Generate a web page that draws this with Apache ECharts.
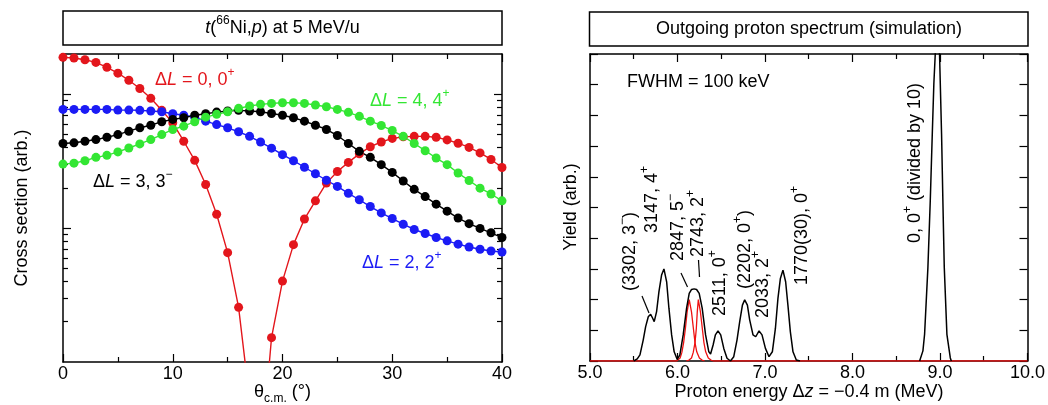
<!DOCTYPE html>
<html><head><meta charset="utf-8">
<script src="https://cdn.jsdelivr.net/npm/echarts@6/dist/echarts.min.js"></script>
<style>html,body{margin:0;padding:0;background:#fff}#c{width:1048px;height:405px}</style>
</head><body><div id="c"></div><script>
const FONT = 'Liberation Sans, Arial, Helvetica, sans-serif';

// ---------- left panel data (theta c.m. in degrees, cross section arb.) ----------
const angles = [0,1,2,3,4,5,6,7,8,9,10,11,12,13,14,15,16,17,18,19,20,21,22,23,24,25,26,27,28,29,30,31,32,33,34,35,36,37,38,39,40];
const csL0 = [18.88,18.66,18.11,17.30,15.89,14.39,12.74,11.04,9.33,7.59,6.12,4.46,3.21,2.12,1.27,0.656,0.256,0.052,0.017,0.152,0.402,0.753,1.17,1.60,2.17,2.65,3.10,3.59,4.06,4.40,4.68,4.81,4.85,4.85,4.78,4.56,4.31,4.01,3.65,3.26,2.84];
const csL2 = [7.71,7.71,7.71,7.71,7.71,7.62,7.62,7.59,7.50,7.41,7.16,6.98,6.75,6.30,5.94,5.62,5.25,4.85,4.40,3.96,3.54,3.19,2.85,2.55,2.28,2.05,1.82,1.63,1.45,1.30,1.18,1.07,0.977,0.912,0.851,0.804,0.759,0.723,0.695,0.675,0.664];
const csL3 = [4.29,4.34,4.46,4.59,4.78,5.00,5.30,5.62,5.87,6.24,6.49,6.68,6.98,7.16,7.36,7.50,7.59,7.50,7.41,7.19,6.98,6.68,6.30,5.87,5.46,4.92,4.29,3.75,3.38,2.98,2.61,2.25,1.95,1.72,1.51,1.34,1.19,1.08,0.995,0.923,0.851];
const csL4 = [3.01,3.06,3.19,3.38,3.50,3.71,3.97,4.26,4.59,5.00,5.46,5.78,6.24,6.75,7.08,7.41,7.85,8.17,8.41,8.55,8.65,8.65,8.55,8.32,8.07,7.71,7.33,6.84,6.30,5.85,5.36,4.85,4.29,3.79,3.34,2.98,2.58,2.27,1.99,1.80,1.60];
const csMin = 0.1, csMax = 20;
const logMajor = [1, 10];
const logMinor = [0.2,0.3,0.4,0.5,0.6,0.7,0.8,0.9,2,3,4,5,6,7,8,9];

// ---------- right panel data (proton energy MeV, yield arb.) ----------
const totalLow = [[5.50,0],[5.514,0],[5.54,0.07],[5.571,0.2],[5.608,0.68],[5.636,1.12],[5.666,1.44],[5.693,1.52],[5.715,1.40],[5.734,1.28],[5.761,1.61],[5.788,2.26],[5.818,2.80],[5.845,3.00],[5.876,2.58],[5.902,1.72],[5.933,0.85],[5.962,0.30],[5.997,0.05],[6.027,0.20],[6.065,0.85],[6.104,1.72],[6.134,2.20],[6.161,2.33],[6.19,2.35],[6.218,2.33],[6.248,2.20],[6.282,1.72],[6.321,0.85],[6.358,0.30],[6.378,0.23],[6.407,0.52],[6.433,0.85],[6.463,0.98],[6.494,0.85],[6.529,0.41],[6.566,0.09],[6.605,0.0],[6.643,0.14],[6.68,0.68],[6.711,1.28],[6.742,1.82],[6.768,1.99],[6.799,1.82],[6.825,1.34],[6.863,0.85],[6.894,0.79],[6.932,0.98],[6.966,0.85],[7.005,0.41],[7.046,0.14],[7.084,0.30],[7.119,1.06],[7.148,2.04],[7.176,2.69],[7.205,2.96],[7.236,2.58],[7.262,1.82],[7.29,0.95],[7.32,0.30],[7.358,0.03],[7.40,0]];
const totalHigh = [[8.767,0],[8.805,0.33],[8.824,0.87],[8.862,3.05],[8.889,5.23],[8.912,7.4],[8.930,9.04],[8.946,10.0],[8.96,10.6],[8.975,10.6],[8.995,10.0],[9.018,7.4],[9.033,5.23],[9.049,3.05],[9.079,0.87],[9.118,0.1],[9.13,0]];
const comp2847 = [[5.0,0],[5.99,0],[6.0,0.03],[6.03,0.1],[6.05,0.28],[6.07,0.6],[6.09,1.05],[6.11,1.6],[6.134,2.0],[6.16,1.6],[6.18,1.1],[6.20,0.6],[6.22,0.3],[6.25,0.1],[6.28,0.03],[6.31,0]];
const comp2743 = [[6.10,0],[6.132,0.03],[6.16,0.1],[6.18,0.28],[6.20,0.6],[6.215,1.05],[6.226,1.6],[6.238,2.0],[6.262,1.6],[6.282,1.1],[6.302,0.6],[6.322,0.3],[6.352,0.1],[6.382,0.03],[6.41,0],[10.0,0]];

const RED = '#e3161c', GREEN = '#33e633', BLUE = '#1b1bf5', BLK = '#000';

function rich(size, color) {
  const base = {fontFamily: FONT, fontSize: size, color: color, fill: color};
  return {
    i: Object.assign({}, base, {fontStyle: 'italic', lineHeight: size + 8}),
    sup: Object.assign({}, base, {fontSize: Math.round(size * 0.66), lineHeight: Math.round(size * 0.66), verticalAlign: 'top'}),
    sub: Object.assign({}, base, {fontSize: Math.round(size * 0.66), lineHeight: Math.round(size * 0.66), verticalAlign: 'bottom'}),
    n: Object.assign({}, base, {lineHeight: size + 8})
  };
}
function txt(text, x, y, color, opts) {
  opts = opts || {};
  const size = opts.size || 18;
  return {
    type: 'text', x: x, y: y, rotation: opts.rot || 0, z: 50,
    style: {
      text: text, rich: rich(size, color), fill: color,
      fontFamily: FONT, fontSize: size, lineHeight: size + 8,
      align: opts.align || 'left', verticalAlign: 'middle'
    }
  };
}
const R90 = Math.PI / 2;
const peakLabels = [
  ['{n|(3302, 3}{sup|−}{n|)}', 630, 291],
  ['{n|3147, 4}{sup|+}', 652, 233],
  ['{n|2847, 5}{sup|−}', 678, 261],
  ['{n|2743, 2}{sup|+}', 698, 257],
  ['{n|2511, 0}{sup|+}', 720, 316],
  ['{n|(2202, 0}{sup|+}{n|)}', 745, 289],
  ['{n|2033, 2}{sup|+}', 763, 318],
  ['{n|1770(30), 0}{sup|+}', 802, 285],
  ['{n|0, 0}{sup|+}{n| (divided by 10)}', 915, 243]
];
const leaders = [[642,296,649,313],[681,273,687.5,287],[698.5,260,699.5,277]];

const graphics = [
  {type:'rect', shape:{x:63,y:11,width:439,height:34}, style:{fill:'none',stroke:'#000',lineWidth:1.5}},
  {type:'rect', shape:{x:589.5,y:12,width:438.5,height:34}, style:{fill:'none',stroke:'#000',lineWidth:1.5}},
  txt('{i|t}{n|(}{sup|66}{n|Ni,}{i|p}{n|) at 5 MeV/u}', 282.5, 28, BLK, {align:'center'}),
  txt('{n|Outgoing proton spectrum (simulation)}', 809, 29, BLK, {align:'center'}),
  txt('{n|Cross section (arb.)}', 22, 208, BLK, {align:'center', rot:R90}),
  txt('{n|Yield (arb.)}', 571, 207, BLK, {align:'center', rot:R90}),
  txt('{n|θ}{sub|c.m.}{n| (°)}', 282.5, 392, BLK, {align:'center'}),
  txt('{n|Proton energy Δ}{i|z}{n| = −0.4 m (MeV)}', 809, 392, BLK, {align:'center'}),
  txt('{n|Δ}{i|L}{n| = 0, 0}{sup|+}', 155, 80, RED),
  txt('{n|Δ}{i|L}{n| = 4, 4}{sup|+}', 370, 101, GREEN),
  txt('{n|Δ}{i|L}{n| = 3, 3}{sup|−}', 93, 182, BLK),
  txt('{n|Δ}{i|L}{n| = 2, 2}{sup|+}', 362, 263, BLUE),
  txt('{n|FWHM = 100 keV}', 627, 82, BLK)
];
peakLabels.forEach(p => graphics.push(txt(p[0], p[1], p[2], BLK, {rot: R90})));
leaders.forEach(l => graphics.push({type:'line', z:50, shape:{x1:l[0],y1:l[1],x2:l[2],y2:l[3]}, style:{stroke:'#000',lineWidth:1.2}}));

const axLine = {show:true, onZero:false, lineStyle:{color:'#000', width:1.5}};
const tickStyle = {color:'#000', width:1.2};
const lbl = {color:'#000', fontSize:18, fontFamily:FONT, margin:3, showMinLabel:true, showMaxLabel:true};

function xAx(grid, pos, min, max, interval, showLabel, fmt) {
  return {
    gridIndex: grid, type:'value', position: pos, min:min, max:max, interval:interval,
    axisLine: axLine,
    axisTick: {show:true, inside:true, length:8, lineStyle:tickStyle},
    minorTick: {show:true, splitNumber:2, length:5, lineStyle:tickStyle},
    axisLabel: showLabel ? Object.assign({}, lbl, fmt ? {formatter: fmt} : {}) : {show:false},
    splitLine: {show:false}, minorSplitLine: {show:false}
  };
}
// data axis: a true log axis carrying the series
function yLogData(pos) {
  return {
    gridIndex:0, type:'log', logBase:10, min:csMin, max:csMax, position:pos,
    axisLine: axLine, axisTick:{show:false}, axisLabel:{show:false},
    splitLine:{show:false}, minorTick:{show:false}
  };
}
// tick-only helper axes in decade units, aligned with the log axis above
function yLogTicks(pos, vals, len) {
  return {
    gridIndex:0, type:'value', min:Math.log10(csMin), max:Math.log10(csMax), position:pos,
    axisLine:{show:false},
    axisTick:{show:true, inside:true, length:len, lineStyle:tickStyle, customValues: vals.map(v => Math.log10(v))},
    axisLabel:{show:false}, splitLine:{show:false}, minorTick:{show:false}
  };
}
function yLin(pos) {
  return {
    gridIndex:1, type:'value', min:0, max:10, interval:1, position:pos,
    axisLine: axLine,
    axisTick: {show:true, inside:true, length:8, lineStyle:tickStyle},
    axisLabel: {show:false}, splitLine:{show:false}
  };
}
function cs(vals, color) {
  return {
    type:'line', xAxisIndex:0, yAxisIndex:0, data: angles.map((a, i) => [a, vals[i]]),
    symbol:'circle', symbolSize:9, showSymbol:true, clip:true, animation:false,
    itemStyle:{color:color}, lineStyle:{color:color, width:1.4}, z:3
  };
}
function spec(data, color, w, z) {
  return {
    type:'line', xAxisIndex:2, yAxisIndex:7, data:data, symbol:'none', clip:true, animation:false,
    lineStyle:{color:color, width:w}, z:z
  };
}

const chart = echarts.init(document.getElementById('c'), null, {renderer:'canvas'});
chart.setOption({
  animation:false,
  backgroundColor:'#fff',
  grid: [
    {left:63, top:54, width:439, height:308},
    {left:590, top:54, width:438, height:307}
  ],
  xAxis: [
    xAx(0, 'bottom', 0, 40, 10, true),
    xAx(0, 'top', 0, 40, 10, false),
    xAx(1, 'bottom', 5, 10, 1, true, v => v.toFixed(1)),
    xAx(1, 'top', 5, 10, 1, false)
  ],
  yAxis: [
    yLogData('left'),
    yLogData('right'),
    yLogTicks('left', logMajor, 8),
    yLogTicks('left', logMinor, 5),
    yLogTicks('right', logMajor, 8),
    yLogTicks('right', logMinor, 5),
    yLin('right'),
    yLin('left')
  ],
  series: [
    cs(csL0, RED), cs(csL2, BLUE), cs(csL3, BLK), cs(csL4, GREEN),
    spec(comp2847, '#ee1111', 1.3, 3),
    spec(comp2743, '#ee1111', 1.3, 3),
    spec(totalLow, '#000', 1.5, 4),
    spec(totalHigh, '#000', 1.5, 4)
  ],
  graphic: graphics
});
</script></body></html>
